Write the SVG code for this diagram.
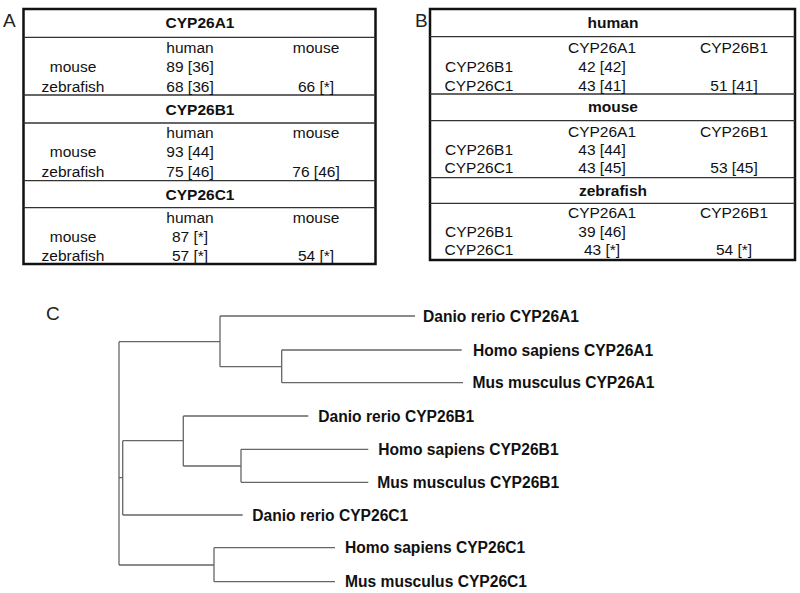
<svg xmlns="http://www.w3.org/2000/svg" width="800" height="593" viewBox="0 0 800 593">
<style>
text{font-family:"Liberation Sans",Arial,sans-serif;font-size:15.5px;fill:#111}
.b{font-weight:bold}
.m{text-anchor:middle}
.lbl{font-size:19px;fill:#222}
.frame{fill:none;stroke:#111;stroke-width:2.5}
.div{stroke:#333;stroke-width:1.3}
.br{fill:none;stroke:#666;stroke-width:1.3}
.leaf{font-weight:bold;font-size:15.6px}
</style>
<rect width="800" height="593" fill="#fff"/>

<g id="tableA">
<text class="lbl" x="3" y="27">A</text>
<rect class="frame" x="23.5" y="9" width="352" height="255"/>
<line class="div" x1="23.5" y1="37.3" x2="375.5" y2="37.3"/>
<line class="div" x1="23.5" y1="95" x2="375.5" y2="95"/>
<line class="div" x1="23.5" y1="123" x2="375.5" y2="123"/>
<line class="div" x1="23.5" y1="180.7" x2="375.5" y2="180.7"/>
<line class="div" x1="23.5" y1="207.7" x2="375.5" y2="207.7"/>
<g class="m">
<text class="b" x="200" y="28">CYP26A1</text>
<text x="190" y="53">human</text><text x="316" y="53">mouse</text>
<text x="73" y="72">mouse</text><text x="190" y="72">89 [36]</text>
<text x="73" y="92">zebrafish</text><text x="190" y="92">68 [36]</text><text x="316" y="92">66 [*]</text>
<text class="b" x="200" y="115">CYP26B1</text>
<text x="190" y="138">human</text><text x="316" y="138">mouse</text>
<text x="73" y="157">mouse</text><text x="190" y="157">93 [44]</text>
<text x="73" y="177">zebrafish</text><text x="190" y="177">75 [46]</text><text x="316" y="177">76 [46]</text>
<text class="b" x="200" y="200">CYP26C1</text>
<text x="190" y="223">human</text><text x="316" y="223">mouse</text>
<text x="73" y="242">mouse</text><text x="190" y="242">87 [*]</text>
<text x="73" y="261">zebrafish</text><text x="190" y="261">57 [*]</text><text x="316" y="261">54 [*]</text>
</g>
</g>

<g id="tableB">
<text class="lbl" x="415" y="27">B</text>
<rect class="frame" x="430" y="9" width="365" height="251"/>
<line class="div" x1="430" y1="36.7" x2="795" y2="36.7"/>
<line class="div" x1="430" y1="94" x2="795" y2="94"/>
<line class="div" x1="430" y1="120.7" x2="795" y2="120.7"/>
<line class="div" x1="430" y1="177.7" x2="795" y2="177.7"/>
<line class="div" x1="430" y1="203.3" x2="795" y2="203.3"/>
<g class="m">
<text class="b" x="613" y="28">human</text>
<text x="602" y="52.7">CYP26A1</text><text x="734" y="52.7">CYP26B1</text>
<text x="479" y="71.7">CYP26B1</text><text x="602" y="71.7">42 [42]</text>
<text x="479" y="90.7">CYP26C1</text><text x="602" y="90.7">43 [41]</text><text x="734" y="90.7">51 [41]</text>
<text class="b" x="613" y="111.7">mouse</text>
<text x="602" y="136.7">CYP26A1</text><text x="734" y="136.7">CYP26B1</text>
<text x="479" y="155">CYP26B1</text><text x="602" y="155">43 [44]</text>
<text x="479" y="173.3">CYP26C1</text><text x="602" y="173.3">43 [45]</text><text x="734" y="173.3">53 [45]</text>
<text class="b" x="613" y="196">zebrafish</text>
<text x="602" y="218">CYP26A1</text><text x="734" y="218">CYP26B1</text>
<text x="479" y="236.7">CYP26B1</text><text x="602" y="236.7">39 [46]</text>
<text x="479" y="255">CYP26C1</text><text x="602" y="255">43 [*]</text><text x="734" y="255">54 [*]</text>
</g>
</g>

<g id="treeC">
<text class="lbl" x="46" y="320">C</text>
<g id="connectors">
<path class="br" d="M119,341.7V565"/>
<path class="br" d="M119,341.7H220M220,316V366.7M220,316H415M220,366.7H281.7M281.7,350V382.7M281.7,350H461.7M281.7,382.7H463"/>
<path class="br" d="M119,477.7H122.7M122.7,440.7V515M122.7,440.7H183.3M183.3,416V466M183.3,416H308.3M183.3,466H241M241,449.3V482.3M241,449.3H368.3M241,482.3H368.3M122.7,515H242.7"/>
<path class="br" d="M119,565H214M214,547.7V581.7M214,547.7H335M214,581.7H335"/>
</g>
<g id="leaves">
<text class="leaf" x="423" y="321.5">Danio rerio CYP26A1</text>
<text class="leaf" x="473" y="355.5">Homo sapiens CYP26A1</text>
<text class="leaf" x="472.5" y="388.2">Mus musculus CYP26A1</text>
<text class="leaf" x="318.3" y="421.5">Danio rerio CYP26B1</text>
<text class="leaf" x="378.3" y="454.8">Homo sapiens CYP26B1</text>
<text class="leaf" x="377.3" y="487.8">Mus musculus CYP26B1</text>
<text class="leaf" x="252.3" y="520.5">Danio rerio CYP26C1</text>
<text class="leaf" x="345" y="553.2">Homo sapiens CYP26C1</text>
<text class="leaf" x="345" y="587.2">Mus musculus CYP26C1</text>
</g>
</g>
</svg>
